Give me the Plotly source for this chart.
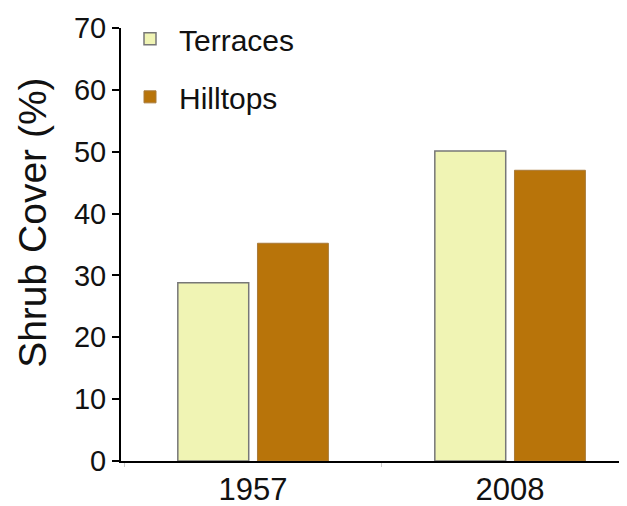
import plotly.graph_objects as go

years = ["1957", "2008"]
terraces = [28.8, 50.1]
hilltops = [35.2, 47.0]

fig = go.Figure()
fig.add_trace(go.Bar(
    x=years, y=terraces, name="Terraces", legendgroup="t",
    marker=dict(color="#F0F4B4", line=dict(color="#777777", width=1.5)),
))
fig.add_trace(go.Bar(
    x=years, y=hilltops, name="Hilltops", legendgroup="h",
    marker=dict(color="#B8740A", line=dict(color="#A87A3A", width=1)),
))

font = "Liberation Sans, Arial, sans-serif"
fig.update_layout(
    width=627, height=506,
    margin=dict(l=113, r=0, t=20, b=53),
    paper_bgcolor="white", plot_bgcolor="white",
    font=dict(family=font, color="#111111"),
    barmode="group", bargap=0.38, bargroupgap=0.11,
    showlegend=True,
    legend=dict(x=0.0, y=1.035, xanchor="left", yanchor="top",
                font=dict(size=30), traceorder="grouped", tracegroupgap=16,
                itemwidth=48, bgcolor="rgba(0,0,0,0)"),
    xaxis=dict(range=[-0.514, 1.486], showline=True, linecolor="black", linewidth=2,
               ticks="outside", tickson="boundaries", ticklen=4, tickcolor="#cccccc",
               tickfont=dict(size=31), showgrid=False),
    yaxis=dict(range=[0, 70], dtick=10, showline=True, linecolor="black", linewidth=2,
               ticks="outside", ticklen=7, tickwidth=2, tickcolor="black",
               tickfont=dict(size=29), showgrid=False, zeroline=False),
    annotations=[dict(text="Shrub Cover (%)", textangle=-90, xref="paper", yref="paper",
                      x=0, y=0.55, xanchor="center", yanchor="middle", xshift=-88,
                      showarrow=False, font=dict(size=39))],
)

fig.write_html("out.html")
